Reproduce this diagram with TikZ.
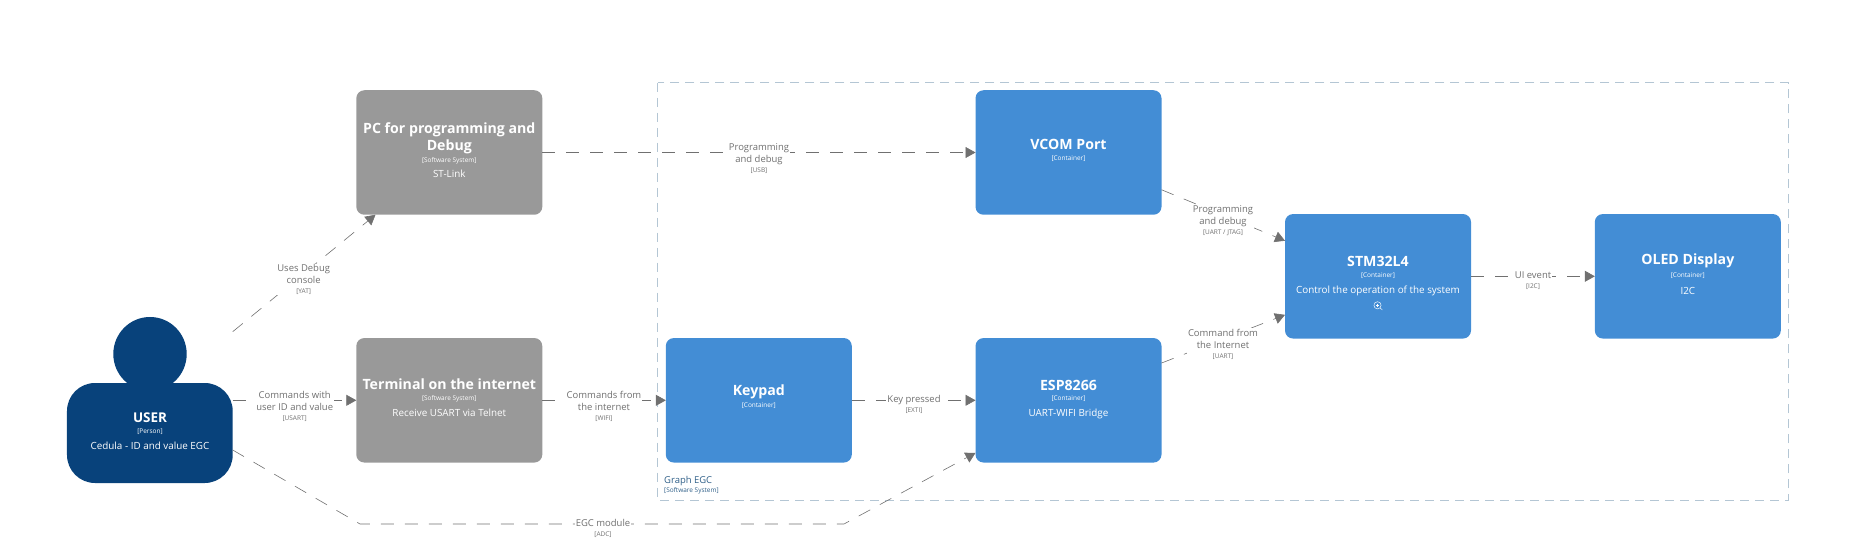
\documentclass[tikz,border=0pt]{standalone}
\usepackage{fontspec}
\setmainfont{Open Sans}
\usetikzlibrary{arrows.meta}

\definecolor{personblue}{HTML}{08427B}
\definecolor{containerblue}{HTML}{438DD5}
\definecolor{systemgray}{HTML}{999999}
\definecolor{linegray}{HTML}{707070}
\definecolor{boundarygray}{HTML}{B4C6D4}
\definecolor{boundarytext}{HTML}{2F5F88}

\tikzset{
  box/.style={rectangle,rounded corners=8bp,inner sep=0pt,outer sep=0pt,
    minimum width=186bp,minimum height=124.5bp},
  system/.style={box,fill=systemgray},
  container/.style={box,fill=containerblue},
  titletext/.style={inner sep=0pt,text=white,font=\fontsize{14.2}{16}\selectfont\bfseries},
  tagtext/.style={inner sep=0pt,text=white,font=\fontsize{6.5}{8}\selectfont},
  desctext/.style={inner sep=0pt,text=white,font=\fontsize{9.9}{12}\selectfont},
  rel/.style={draw=linegray,line width=0.6bp,dash pattern=on 13bp off 11bp,
    -{Triangle[length=10bp,width=11bp,fill=linegray]}},
  rellabel/.style={fill=white,inner xsep=1pt,inner ysep=0.5pt,align=center,text=linegray,
    font=\fontsize{9.5}{12}\selectfont},
}
\newcommand{\reltag}[1]{{\fontsize{6.5}{10}\selectfont[#1]}}

\begin{document}
\begin{tikzpicture}[x=1bp,y=-1bp]
  \useasboundingbox (0,0) rectangle (1865,550);

  % System boundary
  \draw[boundarygray,line width=1bp,dash pattern=on 9bp off 6bp] (657.5,82.7) rectangle (1788.6,500);
  \node[inner sep=0pt,anchor=west,text=boundarytext,font=\fontsize{9.5}{12}\selectfont] (graphname) at (664,480.7) {Graph EGC};
  \node[inner sep=0pt,anchor=west,text=boundarytext,font=\fontsize{6.5}{8}\selectfont] (graphtag) at (664,491) {[Software System]};

  % Person
  \fill[personblue] (150,354) ellipse (36.7 and 37);
  \node[box,fill=personblue,rounded corners=28bp,minimum width=165.7bp,minimum height=100bp] (user) at (149.85,433) {};
  \node[titletext,font=\fontsize{13.5}{16}\selectfont\bfseries] (usert) at (150,418) {USER};
  \node[tagtext] (userk) at (150,432) {[Person]};
  \node[desctext] (userd) at (150,446) {Cedula - ID and value EGC};

  % External systems
  \node[system] (pc) at (449.3,152.5) {};
  \node[titletext] (pct) at (449.3,129.7) {PC for programming and};
  \node[titletext] (pcu) at (449.3,146.7) {Debug};
  \node[tagtext] (pck) at (449.3,160.5) {[Software System]};
  \node[desctext] (pcd) at (449.3,174) {ST-Link};

  \node[system] (term) at (449.3,400.3) {};
  \node[titletext] (termt) at (449.3,384.2) {Terminal on the internet};
  \node[tagtext] (termk) at (449.3,399) {[Software System]};
  \node[desctext] (termd) at (449.3,413) {Receive USART via Telnet};

  % Containers
  \node[container] (vcom) at (1068.5,152.5) {};
  \node[titletext] (vcomt) at (1068.5,144.7) {VCOM Port};
  \node[tagtext] (vcomk) at (1068.5,158.5) {[Container]};

  \node[container] (keypad) at (758.8,400.3) {};
  \node[titletext] (keypadt) at (758.8,391.7) {Keypad};
  \node[tagtext] (keypadk) at (758.8,406) {[Container]};

  \node[container] (esp) at (1068.5,400.3) {};
  \node[titletext] (espt) at (1068.5,385) {ESP8266};
  \node[tagtext] (espk) at (1068.5,399) {[Container]};
  \node[desctext] (espd) at (1068.5,413.7) {UART-WIFI Bridge};

  \node[container] (stm) at (1378,276.3) {};
  \node[titletext] (stmt) at (1378,261) {STM32L4};
  \node[tagtext] (stmk) at (1378,275.7) {[Container]};
  \node[desctext] (stmd) at (1378,290.7) {Control the operation of the system};
  \draw[white,line width=0.45bp] (1377.5,305.3) circle (3.6);
  \draw[white,line width=0.45bp] (1380.1,307.9) -- (1382.4,310);
  \draw[white,line width=0.35bp] (1375.8,305.3) -- (1379.2,305.3) (1377.5,303.6) -- (1377.5,307);

  \node[container] (oled) at (1687.8,276.3) {};
  \node[titletext] (oledt) at (1687.8,261) {OLED Display};
  \node[tagtext] (oledk) at (1687.8,275.7) {[Container]};
  \node[desctext] (oledd) at (1687.8,290.7) {I2C};

  % Relations
  \coordinate (egca) at (360,524);
  \coordinate (egcb) at (844,524);
  \draw[rel] ([yshift=51.3bp]user.north east) -- ([xshift=19.2bp]pc.south west);
  \draw[rel] (user.east |- term.west) -- (term.west);
  \draw[rel] ([yshift=33bp]user.south east) -- (egca) -- (egcb) -- ([yshift=9.7bp]esp.south west);
  \draw[rel] (pc.east) -- (vcom.west);
  \draw[rel] (term.east) -- (keypad.west);
  \draw[rel] (keypad.east) -- (esp.west);
  \draw[rel] ([yshift=25bp]vcom.south east) -- ([yshift=-26.7bp]stm.north west);
  \draw[rel] ([yshift=-25bp]esp.north east) -- ([yshift=23.7bp]stm.south west);
  \draw[rel] (stm.east) -- (oled.west);

  % Relation labels
  \node[rellabel] (ldebug) at (303.7,279.5) {Uses Debug\\console\\[-2pt]\reltag{YAT}};
  \node[rellabel] (lcmd) at (294.7,406) {Commands with\\user ID and value\\[-2pt]\reltag{USART}};
  \node[rellabel] (lnet) at (604,406) {Commands from\\the internet\\[-2pt]\reltag{WIFI}};
  \node[rellabel] (legc) at (603,528.5) {EGC module\\[-2pt]\reltag{ADC}};
  \node[rellabel] (lusb) at (759,158.5) {Programming\\and debug\\[-2pt]\reltag{USB}};
  \node[rellabel] (lkey) at (914,404.5) {Key pressed\\[-2pt]\reltag{EXTI}};
  \node[rellabel] (ljtag) at (1223,220.5) {Programming\\and debug\\[-2pt]\reltag{UART / JTAG}};
  \node[rellabel] (luart) at (1223,344) {Command from\\the Internet\\[-2pt]\reltag{UART}};
  \node[rellabel] (lui) at (1533,280.5) {UI event\\[-2pt]\reltag{I2C}};
\end{tikzpicture}
\end{document}
